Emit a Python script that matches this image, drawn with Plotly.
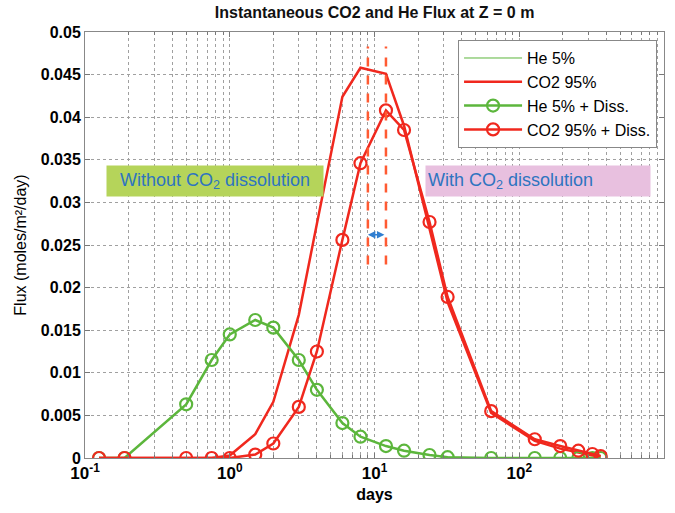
import math
import plotly.graph_objects as go

# ---- data ----
days = [0.125, 0.1875, 0.5, 0.75, 1, 1.5, 2, 3, 4, 6, 8, 12, 16, 24, 32, 64, 128, 192, 256, 320, 365]

he5 = [0, 0, 0.0063, 0.0115, 0.0145, 0.0162, 0.0153, 0.0115, 0.0080, 0.0041, 0.0025,
       0.0014, 0.00086, 0.00035, 0.0001, 0, 0, 0, 0, 0, 0]
co2_95 = [0, 0, 0, 0, 0.0003, 0.0028, 0.0066, 0.0168, 0.0275, 0.0424, 0.0458, 0.0451,
          0.0390, 0.0270, 0.0183, 0.0053, 0.0020, 0.0011, 0.0006, 0.0003, 0.0002]
he5_diss = [0, 0, 0.0063, 0.0115, 0.0145, 0.0162, 0.0153, 0.0115, 0.0080, 0.0041, 0.0025,
            0.0014, 0.00086, 0.00035, 0.0001, 0, 0, 0, 0, 0, 0]
co2_95_diss = [0, 0, 0, 0, 0, 0.0004, 0.0017, 0.0060, 0.0125, 0.0256, 0.0346, 0.0408,
               0.0385, 0.0277, 0.0189, 0.0055, 0.0022, 0.0014, 0.00086, 0.00047, 0.00023]

peak_days = [9, 12]          # dashed markers of the peak shift
peak_line_y = [0.0227, 0.0483]
arrow_y = 0.0262

x_tickvals = [0.1, 1, 10, 100, 1000]
x_ticktext = ["10<sup>-1</sup>", "10<sup>0</sup>", "10<sup>1</sup>", "10<sup>2</sup>", "10<sup>3</sup>"]
y_tickvals = [0, 0.005, 0.01, 0.015, 0.02, 0.025, 0.03, 0.035, 0.04, 0.045, 0.05]
y_ticktext = ["0", "0.005", "0.01", "0.015", "0.02", "0.025", "0.03", "0.035", "0.04", "0.045", "0.05"]

RED = "#f0281e"
GREEN = "#5cb63c"
DASH = "#ff5a32"
BLUE = "#2f7ed0"

fig = go.Figure()
fig.add_trace(go.Scatter(x=days, y=he5, mode="lines", name="He 5%",
                         line=dict(color=GREEN, width=1)))
fig.add_trace(go.Scatter(x=days, y=co2_95, mode="lines", name="CO2 95%",
                         line=dict(color=RED, width=2.5)))
fig.add_trace(go.Scatter(x=days, y=he5_diss, mode="lines+markers", name="He 5% + Diss.",
                         line=dict(color=GREEN, width=2.5),
                         marker=dict(symbol="circle-open", size=12, color=GREEN,
                                     line=dict(width=2.2, color=GREEN))))
fig.add_trace(go.Scatter(x=days, y=co2_95_diss, mode="lines+markers", name="CO2 95% + Diss.",
                         line=dict(color=RED, width=2.5),
                         marker=dict(symbol="circle-open", size=12, color=RED,
                                     line=dict(width=2.2, color=RED))))

for d in peak_days:
    fig.add_trace(go.Scatter(x=[d, d], y=peak_line_y, mode="lines", showlegend=False,
                             hoverinfo="skip",
                             line=dict(color=DASH, width=2.5, dash="dash")))

fig.add_annotation(x=math.log10(peak_days[0]), y=arrow_y, ax=math.log10(peak_days[1]), ay=arrow_y,
                   xref="x", yref="y", axref="x", ayref="y", text="", showarrow=True,
                   arrowside="end+start", arrowhead=2, arrowsize=1, arrowwidth=1.5,
                   arrowcolor=BLUE)

fig.add_annotation(x=0.2245, y=0.650, xref="paper", yref="paper", showarrow=False,
                   xanchor="center", yanchor="middle",
                   text="Without CO<sub>2</sub> dissolution", bgcolor="#b5d45a",
                   width=212, height=26, borderpad=2, align="center",
                   font=dict(family="Arial, Liberation Sans", size=18, color="#2e74c0"))
fig.add_annotation(x=0.782, y=0.650, xref="paper", yref="paper", showarrow=False,
                   xanchor="center", yanchor="middle",
                   text="With CO<sub>2</sub> dissolution", bgcolor="#e8c0df",
                   width=220, height=26, borderpad=2, align="left",
                   font=dict(family="Arial, Liberation Sans", size=18, color="#2e74c0"))

grid = dict(showgrid=True, gridcolor="#a0a0a0", griddash="dot", gridwidth=1)

fig.update_layout(
    width=675, height=513,
    margin=dict(l=85, r=11, t=32, b=55),
    paper_bgcolor="white", plot_bgcolor="white",
    font=dict(family="Arial, Liberation Sans", color="black"),
    title=dict(text="Instantaneous CO2 and He Flux at Z = 0 m", x=0.555, xanchor="center",
               y=0.975, yanchor="middle",
               font=dict(family="Liberation Sans Narrow, Arial Narrow, Arial", size=16,
                         color="#111", weight="bold")),
    showlegend=True,
    legend=dict(x=0.988, y=0.981, xanchor="right", yanchor="top",
                bgcolor="white", bordercolor="#888888", borderwidth=1,
                font=dict(family="Arial, Liberation Sans", size=16, color="black"),
                itemwidth=58, tracegroupgap=0),
    xaxis=dict(type="log", range=[-1, 3], tickvals=x_tickvals, ticktext=x_ticktext,
               ticks="inside", ticklen=5, tickcolor="#777", showline=True, linecolor="#888",
               mirror="allticks", zeroline=False,
               tickfont=dict(size=17, family="Arial, Liberation Sans", weight="bold"),
               title=dict(text="<b>days</b>", font=dict(size=16), standoff=6),
               minor=dict(dtick="D1", ticks="inside", ticklen=3, tickcolor="#777", **grid),
               **grid),
    yaxis=dict(range=[0, 0.05], tickvals=y_tickvals, ticktext=y_ticktext,
               ticks="inside", ticklen=5, tickcolor="#777", showline=True, linecolor="#888",
               mirror="allticks", zeroline=False,
               tickfont=dict(size=16, family="Arial, Liberation Sans", weight="bold"),
               title=dict(text="Flux (moles/m²/day)", font=dict(size=16), standoff=10),
               **grid),
)

fig.write_html("out.html", config={"displayModeBar": False},
               post_script="document.body.style.margin='0px';")
